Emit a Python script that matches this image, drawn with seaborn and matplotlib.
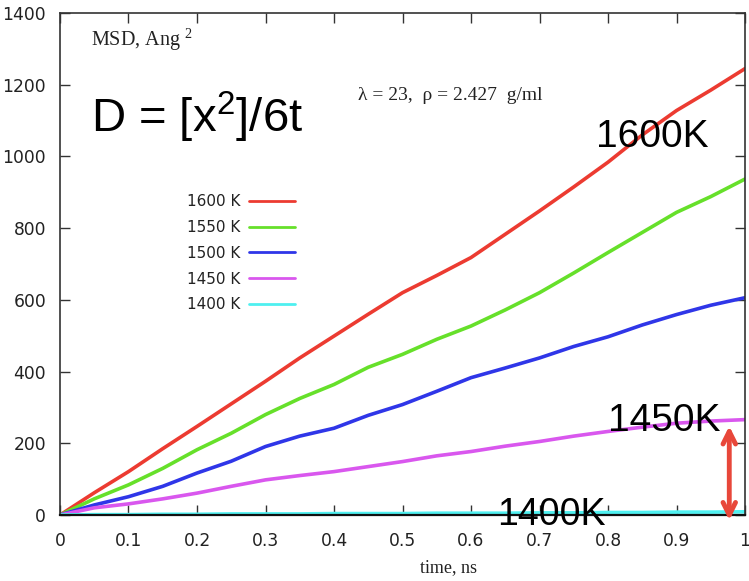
import pandas as pd
import matplotlib
matplotlib.use("Agg")
import matplotlib.pyplot as plt
import seaborn as sns

# MSD curves (time in ns, MSD in Ang^2)
time_ns = [0.0, 0.05, 0.1, 0.15, 0.2, 0.25, 0.3, 0.35, 0.4, 0.45, 0.5,
           0.55, 0.6, 0.65, 0.7, 0.75, 0.8, 0.85, 0.9, 0.95, 1.0]
msd_1600 = [0, 62, 121, 185, 247, 310, 373, 438, 499, 560, 620,
            668, 718, 783, 848, 915, 984, 1060, 1128, 1185, 1245]
msd_1550 = [0, 45, 84, 130, 182, 228, 280, 325, 364, 412, 448,
            490, 527, 572, 620, 675, 732, 788, 844, 888, 937]
msd_1500 = [0, 28, 51, 80, 117, 150, 191, 220, 242, 278, 308,
            345, 383, 410, 438, 470, 497, 530, 559, 585, 606]
msd_1450 = [0, 20, 31, 45, 61, 80, 98, 110, 121, 135, 149,
            165, 177, 192, 205, 220, 233, 245, 256, 262, 266]
msd_1400 = [0, 1, 1, 2, 2, 3, 3, 3, 4, 4, 4,
            5, 5, 5, 6, 6, 7, 7, 8, 8, 9]

temps = ["1600 K", "1550 K", "1500 K", "1450 K", "1400 K"]
series = [msd_1600, msd_1550, msd_1500, msd_1450, msd_1400]
colors = ["#ec3b31", "#66e02a", "#2f36e8", "#d957ee", "#4ef0f0"]

x_ticks = [0, 0.1, 0.2, 0.3, 0.4, 0.5, 0.6, 0.7, 0.8, 0.9, 1]
x_tick_labels = ["0", "0.1", "0.2", "0.3", "0.4", "0.5", "0.6", "0.7", "0.8", "0.9", "1"]
y_ticks = [0, 200, 400, 600, 800, 1000, 1200, 1400]

# long table for seaborn
rows = []
for name, vals in zip(temps, series):
    for t, v in zip(time_ns, vals):
        rows.append({"time": t, "msd": v, "T": name})
df = pd.DataFrame(rows)

sns.set_style("ticks")
plt.rcParams["font.family"] = ["DejaVu Sans"]
plt.rcParams["mathtext.fontset"] = "custom"
plt.rcParams["mathtext.rm"] = "Liberation Serif"
plt.rcParams["mathtext.sf"] = "Liberation Sans"

fig = plt.figure(figsize=(7.49, 5.81), dpi=100, facecolor="white")
ax = fig.add_axes([0.0801, 0.1136, 0.9146, 0.864])

sns.lineplot(data=df, x="time", y="msd", hue="T", hue_order=temps,
             palette=colors, linewidth=2.6, ax=ax, sort=False)

ax.set_xlim(0, 1)
ax.set_ylim(0, 1400)
ax.set_xticks(x_ticks)
ax.set_xticklabels(x_tick_labels)
ax.set_yticks(y_ticks)
ax.tick_params(direction="in", length=7, width=1.0, color="#333333",
               labelsize=12.3, labelcolor="#222222", top=True, right=True)
ax.tick_params(axis="x", pad=12)
ax.tick_params(axis="y", pad=10, labelright=False)
ax.tick_params(axis="x", labeltop=False)
for side in ["left", "bottom", "top", "right"]:
    ax.spines[side].set_visible(True)
    ax.spines[side].set_color("#333333")
    ax.spines[side].set_linewidth(1.2)
ax.spines["bottom"].set_linewidth(1.6)
ax.spines["bottom"].set_color("#111111")

ax.set_xlabel("time, ns", fontfamily="Liberation Serif", fontsize=13,
              color="#222222")
ax.xaxis.set_label_coords(0.567, -0.088)
ax.set_ylabel("")

# legend in gnuplot style: label first, line sample after
handles, labels = ax.get_legend_handles_labels()
leg = ax.legend(handles, labels, loc="upper left", bbox_to_anchor=(0.165, 0.666),
                frameon=False, markerfirst=False, fontsize=11, handlelength=3.0,
                handletextpad=0.6, labelspacing=0.7)
for line in leg.get_lines():
    line.set_linewidth(2.0)
for txt in leg.get_texts():
    txt.set_color("#222222")

# annotations
ax.text(0.045, 1327, "MSD, Ang $^{\\mathrm{2}}$", fontfamily="Liberation Serif",
        fontsize=14.5, color="#222222", va="center")
ax.text(0.045, 1110, "D = [x$^{\\mathsf{2}}$]/6t", fontfamily="Liberation Sans",
        fontsize=34, color="black", va="center")
ax.text(0.435, 1170, "λ = 23,  ρ = 2.427  g/ml", fontfamily="Liberation Serif",
        fontsize=14, color="#222222", va="center")
ax.text(0.865, 1054, "1600K", fontfamily="Liberation Sans", fontsize=28,
        color="black", ha="center", va="center")
ax.text(0.882, 261, "1450K", fontfamily="Liberation Sans", fontsize=28,
        color="black", ha="center", va="center")
ax.text(0.718, 0, "1400K", fontfamily="Liberation Sans", fontsize=27,
        color="black", ha="center", va="center", clip_on=False)

ax.annotate("", xy=(0.977, 248), xytext=(0.977, -15),
            arrowprops=dict(arrowstyle="<->,head_length=0.9,head_width=0.45",
                            color="#e8473a", lw=3.5, shrinkA=0, shrinkB=0),
            annotation_clip=False)

fig.savefig("out.png", dpi=100, facecolor="white")
